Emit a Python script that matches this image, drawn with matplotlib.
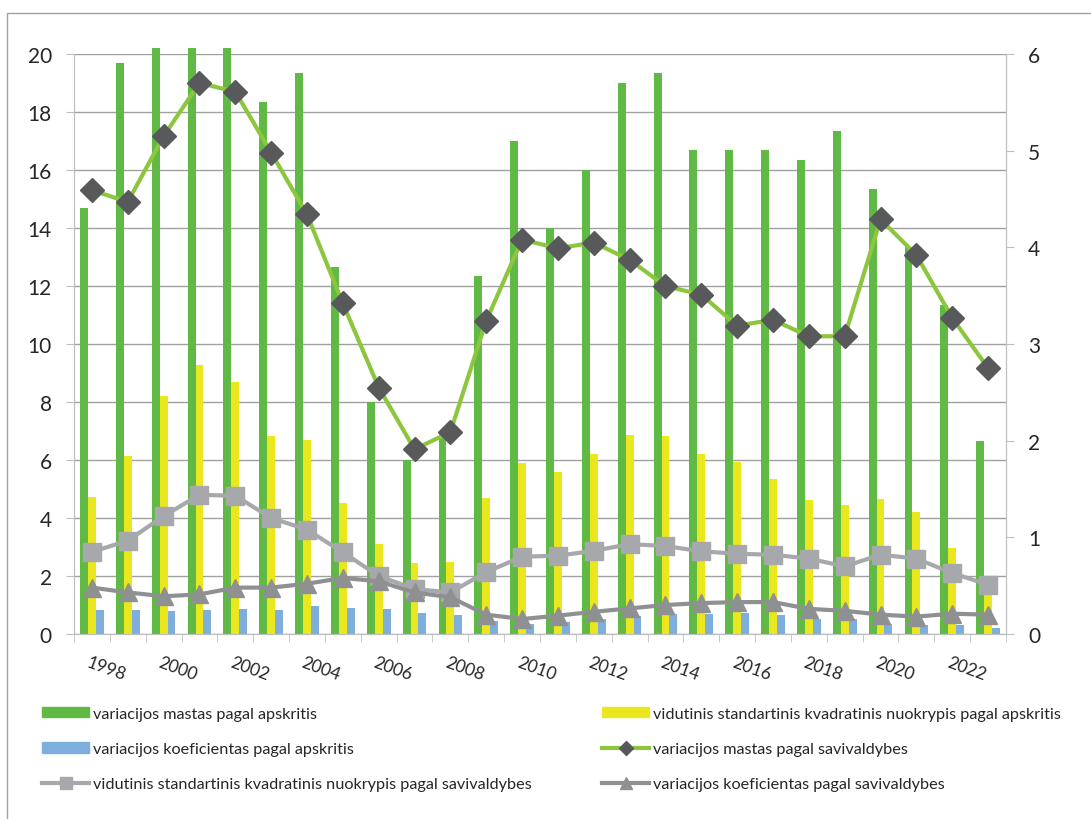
import numpy as np
import matplotlib.pyplot as plt
from matplotlib.lines import Line2D
from matplotlib.patches import Patch, Rectangle

plt.rcParams['font.family'] = ['Lato', 'DejaVu Sans']

years = list(range(1997, 2023))

# bars (left axis)
mastas_apskr = [14.7, 19.7, 20.2, 20.2, 20.2, 18.35, 19.35, 12.65, 8.0, 6.0,
                7.0, 12.35, 17.0, 14.0, 16.0, 19.0, 19.35, 16.7, 16.7, 16.7,
                16.33, 17.35, 15.33, 13.35, 11.33, 6.65]
std_apskr = [4.73, 6.14, 8.2, 9.28, 8.7, 6.82, 6.69, 4.53, 3.1, 2.45,
             2.5, 4.69, 5.9, 5.59, 6.2, 6.86, 6.82, 6.2, 5.93, 5.34,
             4.62, 4.46, 4.65, 4.2, 2.97, 1.7]
koef_apskr = [0.83, 0.83, 0.79, 0.83, 0.86, 0.83, 0.97, 0.9, 0.86, 0.72,
              0.66, 0.45, 0.34, 0.41, 0.52, 0.62, 0.69, 0.69, 0.72, 0.66,
              0.52, 0.52, 0.34, 0.31, 0.32, 0.2]

# lines (right axis)
mastas_sav = [4.59, 4.47, 5.15, 5.70, 5.61, 4.98, 4.34, 3.42, 2.55, 1.91,
              2.09, 3.24, 4.08, 3.99, 4.05, 3.87, 3.60, 3.51, 3.19, 3.25,
              3.08, 3.08, 4.29, 3.92, 3.27, 2.75]
std_sav = [0.85, 0.965, 1.22, 1.44, 1.43, 1.20, 1.08, 0.845, 0.60, 0.465,
           0.43, 0.64, 0.80, 0.81, 0.86, 0.93, 0.91, 0.855, 0.83, 0.82,
           0.78, 0.70, 0.82, 0.78, 0.63, 0.51]
koef_sav = [0.48, 0.43, 0.39, 0.41, 0.48, 0.48, 0.52, 0.58, 0.545, 0.43,
            0.38, 0.20, 0.155, 0.19, 0.23, 0.265, 0.30, 0.32, 0.33, 0.33,
            0.26, 0.24, 0.20, 0.18, 0.21, 0.20]

labels = ['variacijos mastas pagal apskritis',
          'vidutinis standartinis kvadratinis nuokrypis pagal apskritis',
          'variacijos koeficientas pagal apskritis',
          'variacijos mastas pagal savivaldybes',
          'vidutinis standartinis kvadratinis nuokrypis pagal savivaldybes',
          'variacijos koeficientas pagal savivaldybes']

c_green, c_yellow, c_blue = '#60B945', '#EBE71E', '#7DAEDD'
c_line, c_diamond = '#8CC63E', '#58595B'
c_sq, c_tri = '#A6A8AB', '#8F9092'
axis_col, grid_col, txt = '#BFBFBF', '#A0A0A0', '#262626'

fig = plt.figure(figsize=(10.91, 8.2), dpi=100)
ax = fig.add_axes([74 / 1091, 1 - 635 / 820, (1006 - 74) / 1091, (635 - 55) / 820])
ax2 = ax.twinx()

x = np.arange(len(years))
w = 0.22
ax.bar(x - w, mastas_apskr, w, color=c_green, clip_on=False, zorder=2)
ax.bar(x, std_apskr, w, color=c_yellow, zorder=2)
ax.bar(x + w, koef_apskr, w, color=c_blue, zorder=2)

ax2.plot(x, mastas_sav, color=c_line, lw=3, marker='D', ms=12,
         mfc=c_diamond, mec=c_diamond, clip_on=False)
ax2.plot(x, std_sav, color=c_sq, lw=3, marker='s', ms=13,
         mfc=c_sq, mec=c_sq, clip_on=False)
ax2.plot(x, koef_sav, color=c_tri, lw=3, marker='^', ms=13,
         mfc=c_tri, mec=c_tri, clip_on=False)

ax.set_xlim(-0.5, len(years) - 0.5)
ax.set_ylim(0, 20)
ax2.set_ylim(0, 6)
ax.set_yticks(np.arange(0, 21, 2))
ax2.set_yticks(np.arange(0, 7, 1))
ax.yaxis.grid(True, color=grid_col, lw=1)
ax.set_axisbelow(True)

# year labels every second year, tick marks between categories
ax.set_xticks(x[1::2])
ax.set_xticklabels([str(y) for y in years[1::2]], rotation=-20,
                   ha='right', va='top', rotation_mode='anchor', fontsize=12.5, color=txt)
ax.set_xticks(np.arange(-0.5, len(years), 1), minor=True)
ax.tick_params(axis='x', which='major', length=0, pad=24)
ax.tick_params(axis='x', which='minor', length=6, color=axis_col, direction='out')
ax.tick_params(axis='y', length=6, color=axis_col, labelsize=15, labelcolor=txt, pad=10)
ax2.tick_params(axis='y', length=6, color=axis_col, labelsize=15, labelcolor=txt, pad=10)

for a in (ax, ax2):
    a.spines['top'].set_visible(False)
    a.spines['left'].set_color(axis_col)
    a.spines['right'].set_color(axis_col)
    a.spines['bottom'].set_color(axis_col)

# legend in two columns
h_left = [Patch(color=c_green), Patch(color=c_blue),
          Line2D([], [], color=c_sq, lw=3, marker='s', ms=8, mfc=c_sq, mec=c_sq)]
h_right = [Patch(color=c_yellow),
           Line2D([], [], color=c_line, lw=3, marker='D', ms=7, mfc=c_diamond, mec=c_diamond),
           Line2D([], [], color=c_tri, lw=3, marker='^', ms=8, mfc=c_tri, mec=c_tri)]
lab_left = [labels[0], labels[2], labels[4]]
lab_right = [labels[1], labels[3], labels[5]]
kw = dict(frameon=False, fontsize=11.7, handlelength=2.9, handleheight=0.6,
          handletextpad=0.25, labelspacing=1.3, borderaxespad=0, borderpad=0,
          loc='upper left', labelcolor=txt)
fig.legend(h_left, lab_left, bbox_to_anchor=(42 / 1091, 1 - 708 / 820), **kw)
fig.legend(h_right, lab_right, bbox_to_anchor=(602 / 1091, 1 - 708 / 820), **kw)

# outer frame of the chart
fig.patches.append(Rectangle((7 / 1091, -0.1), 1.2, 0.1 + 1 - 14 / 820,
                             transform=fig.transFigure, fill=False,
                             edgecolor='#A0A0A0', lw=1))

fig.savefig('out.png', dpi=100)
